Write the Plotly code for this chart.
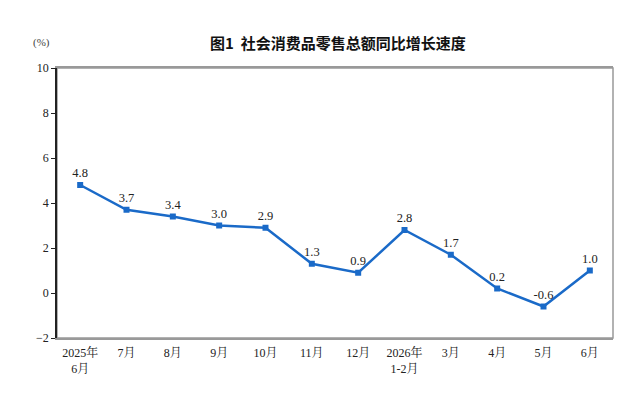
import plotly.graph_objects as go

months = ["2025年<br>6月", "7月", "8月", "9月", "10月", "11月", "12月",
          "2026年<br>1-2月", "3月", "4月", "5月", "6月"]
growth = [4.8, 3.7, 3.4, 3.0, 2.9, 1.3, 0.9, 2.8, 1.7, 0.2, -0.6, 1.0]
y_ticks = [-2, 0, 2, 4, 6, 8, 10]

serif = "Liberation Serif, Noto Serif CJK SC, Noto Sans CJK SC, serif"
blue = "#1a6ac8"

fig = go.Figure()
fig.add_trace(go.Scatter(
    x=list(range(len(months))), y=growth,
    mode="lines+markers+text",
    line=dict(color=blue, width=2.5),
    marker=dict(symbol="square", size=6, color=blue),
    text=[f"{v:.1f}" for v in growth],
    textposition="top center",
    textfont=dict(family=serif, size=12.5, color="#222"),
    cliponaxis=False,
    showlegend=False,
))

# page has an 8px body margin, so the figure is sized to fit inside it
fig.update_layout(
    width=632, height=393,
    margin=dict(l=49, r=27, t=60, b=63),
    paper_bgcolor="white", plot_bgcolor="white",
    title=dict(text="<b>图1  社会消费品零售总额同比增长速度</b>",
               x=0.522, xanchor="center", y=0.91, yanchor="middle",
               font=dict(family="Noto Sans CJK SC", size=15, color="#111")),
    annotations=[dict(text="(%)", xref="paper", yref="paper",
                      x=-0.027, y=1.096, xanchor="center", yanchor="middle",
                      showarrow=False,
                      font=dict(family=serif, size=11, color="#444"))],
)
fig.update_xaxes(
    range=[-0.5, len(months) - 0.5],
    tickmode="array", tickvals=list(range(len(months))), ticktext=months,
    tickfont=dict(family=serif, size=12, color="#222"),
    showgrid=False, zeroline=False,
    showline=True, linecolor="#999", linewidth=1.5, mirror=True,
    ticks="", ticklabelstandoff=3,
)
fig.update_yaxes(
    range=[-2, 10], tickvals=y_ticks,
    tickfont=dict(family=serif, size=12, color="#222"),
    showgrid=False, zeroline=False,
    showline=True, linecolor="#222", linewidth=1.5,
    ticks="outside", ticklen=4, tickcolor="#222",
)
# grey frame on top and right
fig.add_shape(type="rect", xref="paper", yref="paper", x0=0, y0=0, x1=1, y1=1,
              line=dict(color="#999", width=1.5), layer="below")

fig.write_html("out.html")
